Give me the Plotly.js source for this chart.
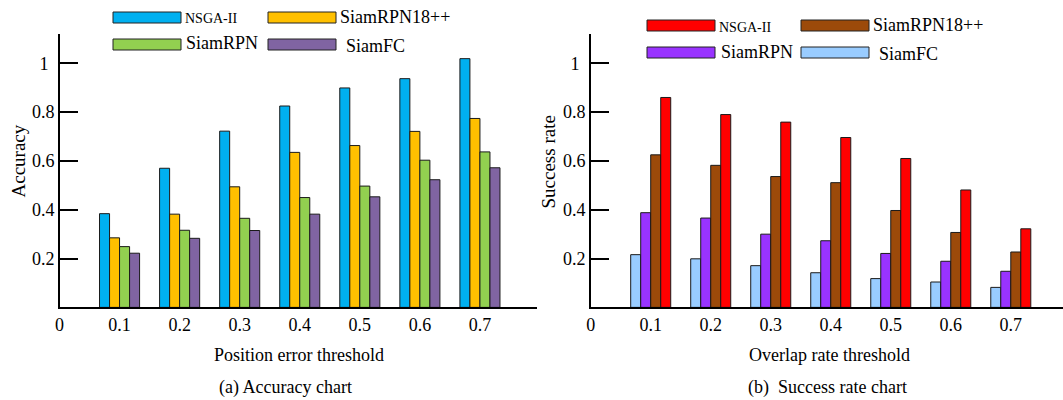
<!DOCTYPE html>
<html>
<head>
<meta charset="utf-8">
<script src="https://cdn.plot.ly/plotly-3.0.1.min.js"></script>
<style>html,body{margin:0;padding:0;background:#fff;}#chart{width:1063px;height:400px;}</style>
</head>
<body>
<div id="chart"></div>
<script>
// ---- data ----
const thresholds = [0.1, 0.2, 0.3, 0.4, 0.5, 0.6, 0.7];
const xTickVals = [0, 0.1, 0.2, 0.3, 0.4, 0.5, 0.6, 0.7];
const xTickText = ['0', '0.1', '0.2', '0.3', '0.4', '0.5', '0.6', '0.7'];
const yTickVals = [0.2, 0.4, 0.6, 0.8, 1];
const yTickText = ['0.2', '0.4', '0.6', '0.8', '1\u2004'];

// (a) Accuracy
const accNSGA = [0.384, 0.570, 0.722, 0.825, 0.899, 0.937, 1.019];
const accSiamRPN18 = [0.285, 0.382, 0.494, 0.635, 0.663, 0.721, 0.774];
const accSiamRPN = [0.249, 0.316, 0.365, 0.450, 0.497, 0.603, 0.637];
const accSiamFC = [0.222, 0.283, 0.315, 0.382, 0.453, 0.523, 0.572];

// (b) Success rate
const sucSiamFC = [0.216, 0.199, 0.171, 0.142, 0.118, 0.104, 0.082];
const sucSiamRPN = [0.388, 0.366, 0.300, 0.273, 0.221, 0.189, 0.148];
const sucSiamRPN18 = [0.625, 0.582, 0.536, 0.511, 0.397, 0.307, 0.227];
const sucNSGA = [0.860, 0.790, 0.759, 0.696, 0.610, 0.481, 0.322];

const seriesNames = ['NSGA-II', 'SiamRPN18++', 'SiamRPN', 'SiamFC'];
const colorsA = ['#00B0F0', '#FFC000', '#92D050', '#8064A2'];
const colorsB = ['#FF0000', '#9C4A0A', '#9933FF', '#99CCFF'];

// ---- build ----
const FONT = 'Liberation Serif, Times New Roman, serif';
const outline = {color: '#1a1a1a', width: 1};

function bar(y, name, color, xa, ya) {
  return {type: 'bar', x: thresholds, y: y, name: name, xaxis: xa, yaxis: ya,
          marker: {color: color, line: outline}, showlegend: false, hoverinfo: 'x+y+name'};
}

const data = [
  bar(accNSGA, seriesNames[0], colorsA[0], 'x', 'y'),
  bar(accSiamRPN18, seriesNames[1], colorsA[1], 'x', 'y'),
  bar(accSiamRPN, seriesNames[2], colorsA[2], 'x', 'y'),
  bar(accSiamFC, seriesNames[3], colorsA[3], 'x', 'y'),
  bar(sucSiamFC, seriesNames[3], colorsB[3], 'x2', 'y2'),
  bar(sucSiamRPN, seriesNames[2], colorsB[2], 'x2', 'y2'),
  bar(sucSiamRPN18, seriesNames[1], colorsB[1], 'x2', 'y2'),
  bar(sucNSGA, seriesNames[0], colorsB[0], 'x2', 'y2')
];

const W = 1063, H = 400;
const px = v => v / W;          // paper x from pixel
const py = v => 1 - v / H;      // paper y from pixel (top-based)

function xax(domain, range, anchor) {
  return {domain: domain, range: range, anchor: anchor, tickmode: 'array', tickvals: xTickVals, ticktext: xTickText,
          showline: true, linecolor: '#000', linewidth: 1.5, ticks: '', showgrid: false, zeroline: false,
          tickfont: {family: FONT, size: 18, color: '#000'}, ticklabelstandoff: 0, fixedrange: true};
}
function yax(anchor) {
  return {domain: [py(307.4), py(34)], range: [0, 1.12], anchor: anchor, tickmode: 'array',
          tickvals: yTickVals, ticktext: yTickText, ticks: 'inside', ticklen: 18, tickwidth: 2, tickcolor: '#000',
          showline: true, linecolor: '#000', linewidth: 1.5, showgrid: false, zeroline: false,
          tickfont: {family: FONT, size: 18, color: '#000'}, fixedrange: true};
}

const shapes = [];
const annotations = [];
function legendItem(x0, y0, color, label, tx, ty, size) {
  shapes.push({type: 'rect', xref: 'paper', yref: 'paper', x0: px(x0), x1: px(x0 + 68),
               y0: py(y0), y1: py(y0 + 11), fillcolor: color, line: {color: '#222', width: 1}});
  annotations.push({xref: 'paper', yref: 'paper', x: px(tx), y: py(ty), xanchor: 'left', yanchor: 'middle',
                    text: label, showarrow: false, font: {family: FONT, size: size, color: '#000'}});
}
// legend (a)
legendItem(113, 12, colorsA[0], seriesNames[0], 183, 18.5, 14);
legendItem(268, 12, colorsA[1], seriesNames[1], 338, 17, 18);
legendItem(113, 39, colorsA[2], seriesNames[2], 184, 43, 18);
legendItem(268, 39, colorsA[3], seriesNames[3], 344, 46, 18);
// legend (b)
legendItem(647, 20, colorsB[0], seriesNames[0], 717, 27.5, 14);
legendItem(801, 20, colorsB[1], seriesNames[1], 871, 25.5, 18);
legendItem(647, 47, colorsB[2], seriesNames[2], 719, 51.5, 18);
legendItem(801, 47, colorsB[3], seriesNames[3], 877, 54.5, 18);

function txt(x, y, s, size, angle) {
  annotations.push({xref: 'paper', yref: 'paper', x: px(x), y: py(y), xanchor: 'center', yanchor: 'middle',
                    text: s, showarrow: false, textangle: angle || 0, font: {family: FONT, size: size, color: '#000'}});
}
txt(18, 161.5, 'Accuracy', 19, -90);
txt(548, 162.5, 'Success rate', 19, -90);
txt(298.5, 355, 'Position error threshold', 18);
txt(829, 355, 'Overlap rate threshold', 18);
txt(285.5, 387, '(a) Accuracy chart', 18);
txt(827.5, 387, '(b)&nbsp; Success rate chart', 18);

const layout = {
  width: W, height: H, margin: {l: 0, r: 0, t: 0, b: 0, pad: 0},
  paper_bgcolor: '#fff', plot_bgcolor: '#fff',
  barmode: 'group', bargap: 0.333, bargroupgap: 0,
  xaxis: xax([px(59.5), px(537)], [0, 0.795], 'y'),
  yaxis: yax('x'),
  xaxis2: xax([px(590.7), 1], [0, 0.787], 'y2'),
  yaxis2: yax('x2'),
  shapes: shapes, annotations: annotations, showlegend: false
};

Plotly.newPlot('chart', data, layout, {displayModeBar: false, staticPlot: true});
</script>
</body>
</html>
